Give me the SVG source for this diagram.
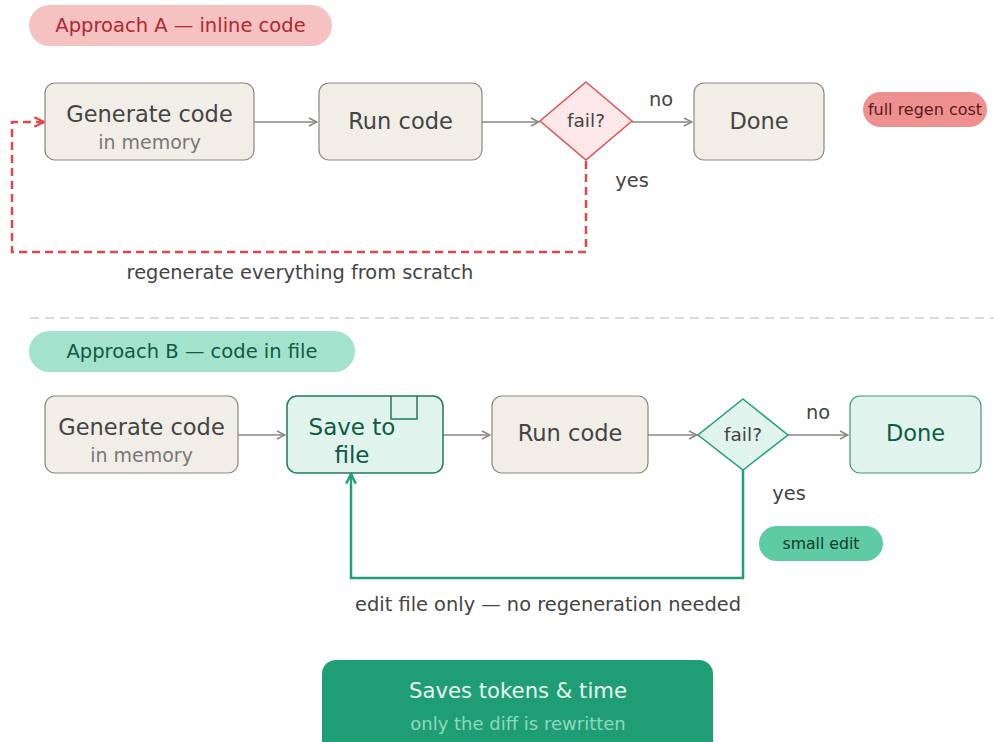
<svg xmlns="http://www.w3.org/2000/svg" width="994" height="742" viewBox="0 0 994 742">
<defs>
<style>
text{font-family:"DejaVu Sans","Verdana",sans-serif;}
.box{fill:#f1eee8;stroke:#8a8780;stroke-width:1.2;}
.gbox{fill:#e0f3ec;stroke:#1f7a5c;stroke-width:1.5;}
.t{font-size:22.5px;fill:#444;text-anchor:middle;}
.s{font-size:19px;fill:#777;text-anchor:middle;}
.lbl{font-size:19.4px;fill:#444;text-anchor:middle;}
.edge{fill:none;stroke:#8a8780;stroke-width:1.5;}
</style>
<marker id="ag" viewBox="0 0 10 10" refX="9" refY="5" markerWidth="10" markerHeight="10" markerUnits="userSpaceOnUse" orient="auto"><path d="M1,1 L9,5 L1,9" fill="none" stroke="#8a8780" stroke-width="1.5"/></marker>
<marker id="ar" viewBox="0 0 10 10" refX="9" refY="5" markerWidth="12" markerHeight="12" markerUnits="userSpaceOnUse" orient="auto"><path d="M1,1 L9,5 L1,9" fill="none" stroke="#e04848" stroke-width="2"/></marker>
<marker id="agr" viewBox="0 0 10 10" refX="9" refY="5" markerWidth="12" markerHeight="12" markerUnits="userSpaceOnUse" orient="auto"><path d="M1,1 L9,5 L1,9" fill="none" stroke="#1fa07a" stroke-width="2"/></marker>
</defs>
<rect width="994" height="742" fill="#ffffff"/>

<g id="pillA"><rect x="29" y="5" width="303" height="41" rx="20.5" fill="#f6c1c1"/><text x="180.5" y="32" font-size="19.5" fill="#b0282e" text-anchor="middle">Approach A — inline code</text></g>

<g id="connectors">
<line class="edge" x1="254" y1="122" x2="317" y2="122" marker-end="url(#ag)"/>
<line class="edge" x1="482" y1="122" x2="539" y2="122" marker-end="url(#ag)"/>
<line class="edge" x1="632" y1="122" x2="692" y2="122" marker-end="url(#ag)"/>
<path d="M586,161 V252 H12 V122 H44" fill="none" stroke="#e04848" stroke-width="2.5" stroke-dasharray="8,5" marker-end="url(#ar)"/>
<line class="edge" x1="238" y1="435" x2="285" y2="435" marker-end="url(#ag)"/>
<line class="edge" x1="443" y1="435" x2="490" y2="435" marker-end="url(#ag)"/>
<line class="edge" x1="648" y1="435" x2="697" y2="435" marker-end="url(#ag)"/>
<line class="edge" x1="788" y1="435" x2="848" y2="435" marker-end="url(#ag)"/>
<path d="M743,470 V578 H351 V474" fill="none" stroke="#1fa07a" stroke-width="2.5" marker-end="url(#agr)"/>
<text class="lbl" x="661" y="106">no</text>
<text class="lbl" x="632" y="187">yes</text>
<text class="lbl" x="300" y="279">regenerate everything from scratch</text>
<text class="lbl" x="818" y="419">no</text>
<text class="lbl" x="789" y="500">yes</text>
<text class="lbl" x="548" y="611">edit file only — no regeneration needed</text>
</g>

<g id="genA"><rect class="box" x="45" y="83" width="209" height="77" rx="10"/><text class="t" x="149.5" y="122">Generate code</text><text class="s" x="149.5" y="149">in memory</text></g>
<g id="runA"><rect class="box" x="319" y="83" width="163" height="77" rx="10"/><text class="t" x="400.5" y="129">Run code</text></g>
<g id="failA"><polygon points="586,82 632,121 586,160 540,121" fill="#fce8e8" stroke="#e05050" stroke-width="1.5"/><text x="586" y="127" font-size="18.5" fill="#444" text-anchor="middle">fail?</text></g>
<g id="doneA"><rect class="box" x="694" y="83" width="130" height="77" rx="10"/><text class="t" x="759" y="129">Done</text></g>
<g id="costA"><rect x="863" y="92" width="124" height="35" rx="17.5" fill="#ee9090"/><text x="925" y="115" font-size="16" fill="#5a1a1a" text-anchor="middle">full regen cost</text></g>

<line id="divider" x1="30" y1="318" x2="994" y2="318" stroke="#d3d0c9" stroke-width="1.5" stroke-dasharray="9,6"/>

<g id="pillB"><rect x="29" y="331" width="326" height="41" rx="20.5" fill="#a3e3cd"/><text x="192" y="358" font-size="19.5" fill="#0f5a44" text-anchor="middle">Approach B — code in file</text></g>

<g id="genB"><rect class="box" x="45" y="396" width="193" height="77" rx="10"/><text class="t" x="141.5" y="435">Generate code</text><text class="s" x="141.5" y="462">in memory</text></g>
<g id="save"><rect class="gbox" x="287" y="396" width="156" height="77" rx="10"/><path d="M391,396 V419 H417 V396" fill="none" stroke="#1f7a5c" stroke-width="1.5"/><text x="352" y="435" font-size="23" fill="#0f5a44" text-anchor="middle">Save to</text><text x="352" y="463" font-size="23" fill="#0f5a44" text-anchor="middle">file</text></g>
<g id="runB"><rect class="box" x="492" y="396" width="156" height="77" rx="10"/><text class="t" x="570" y="441">Run code</text></g>
<g id="failB"><polygon points="743,399 788,435 743,470 698,435" fill="#e0f3ec" stroke="#1fa07a" stroke-width="1.5"/><text x="743" y="441" font-size="18.5" fill="#444" text-anchor="middle">fail?</text></g>
<g id="doneB"><rect x="850" y="396" width="131" height="77" rx="10" fill="#e0f3ec" stroke="#3a9a78" stroke-width="1.2"/><text x="915.5" y="441" font-size="22.5" fill="#0f5a44" text-anchor="middle">Done</text></g>
<g id="smallEdit"><rect x="759" y="526" width="124" height="35" rx="17.5" fill="#5ecba4"/><text x="821" y="549" font-size="15.7" fill="#0f3a2e" text-anchor="middle">small edit</text></g>

<g id="saves"><rect x="322" y="660" width="391" height="96" rx="14" fill="#1f9e76"/><text x="518" y="698" font-size="21.2" fill="#e6f7f0" text-anchor="middle">Saves tokens &amp; time</text><text x="518" y="730" font-size="18" fill="#8fd8bb" text-anchor="middle">only the diff is rewritten</text></g>
</svg>
